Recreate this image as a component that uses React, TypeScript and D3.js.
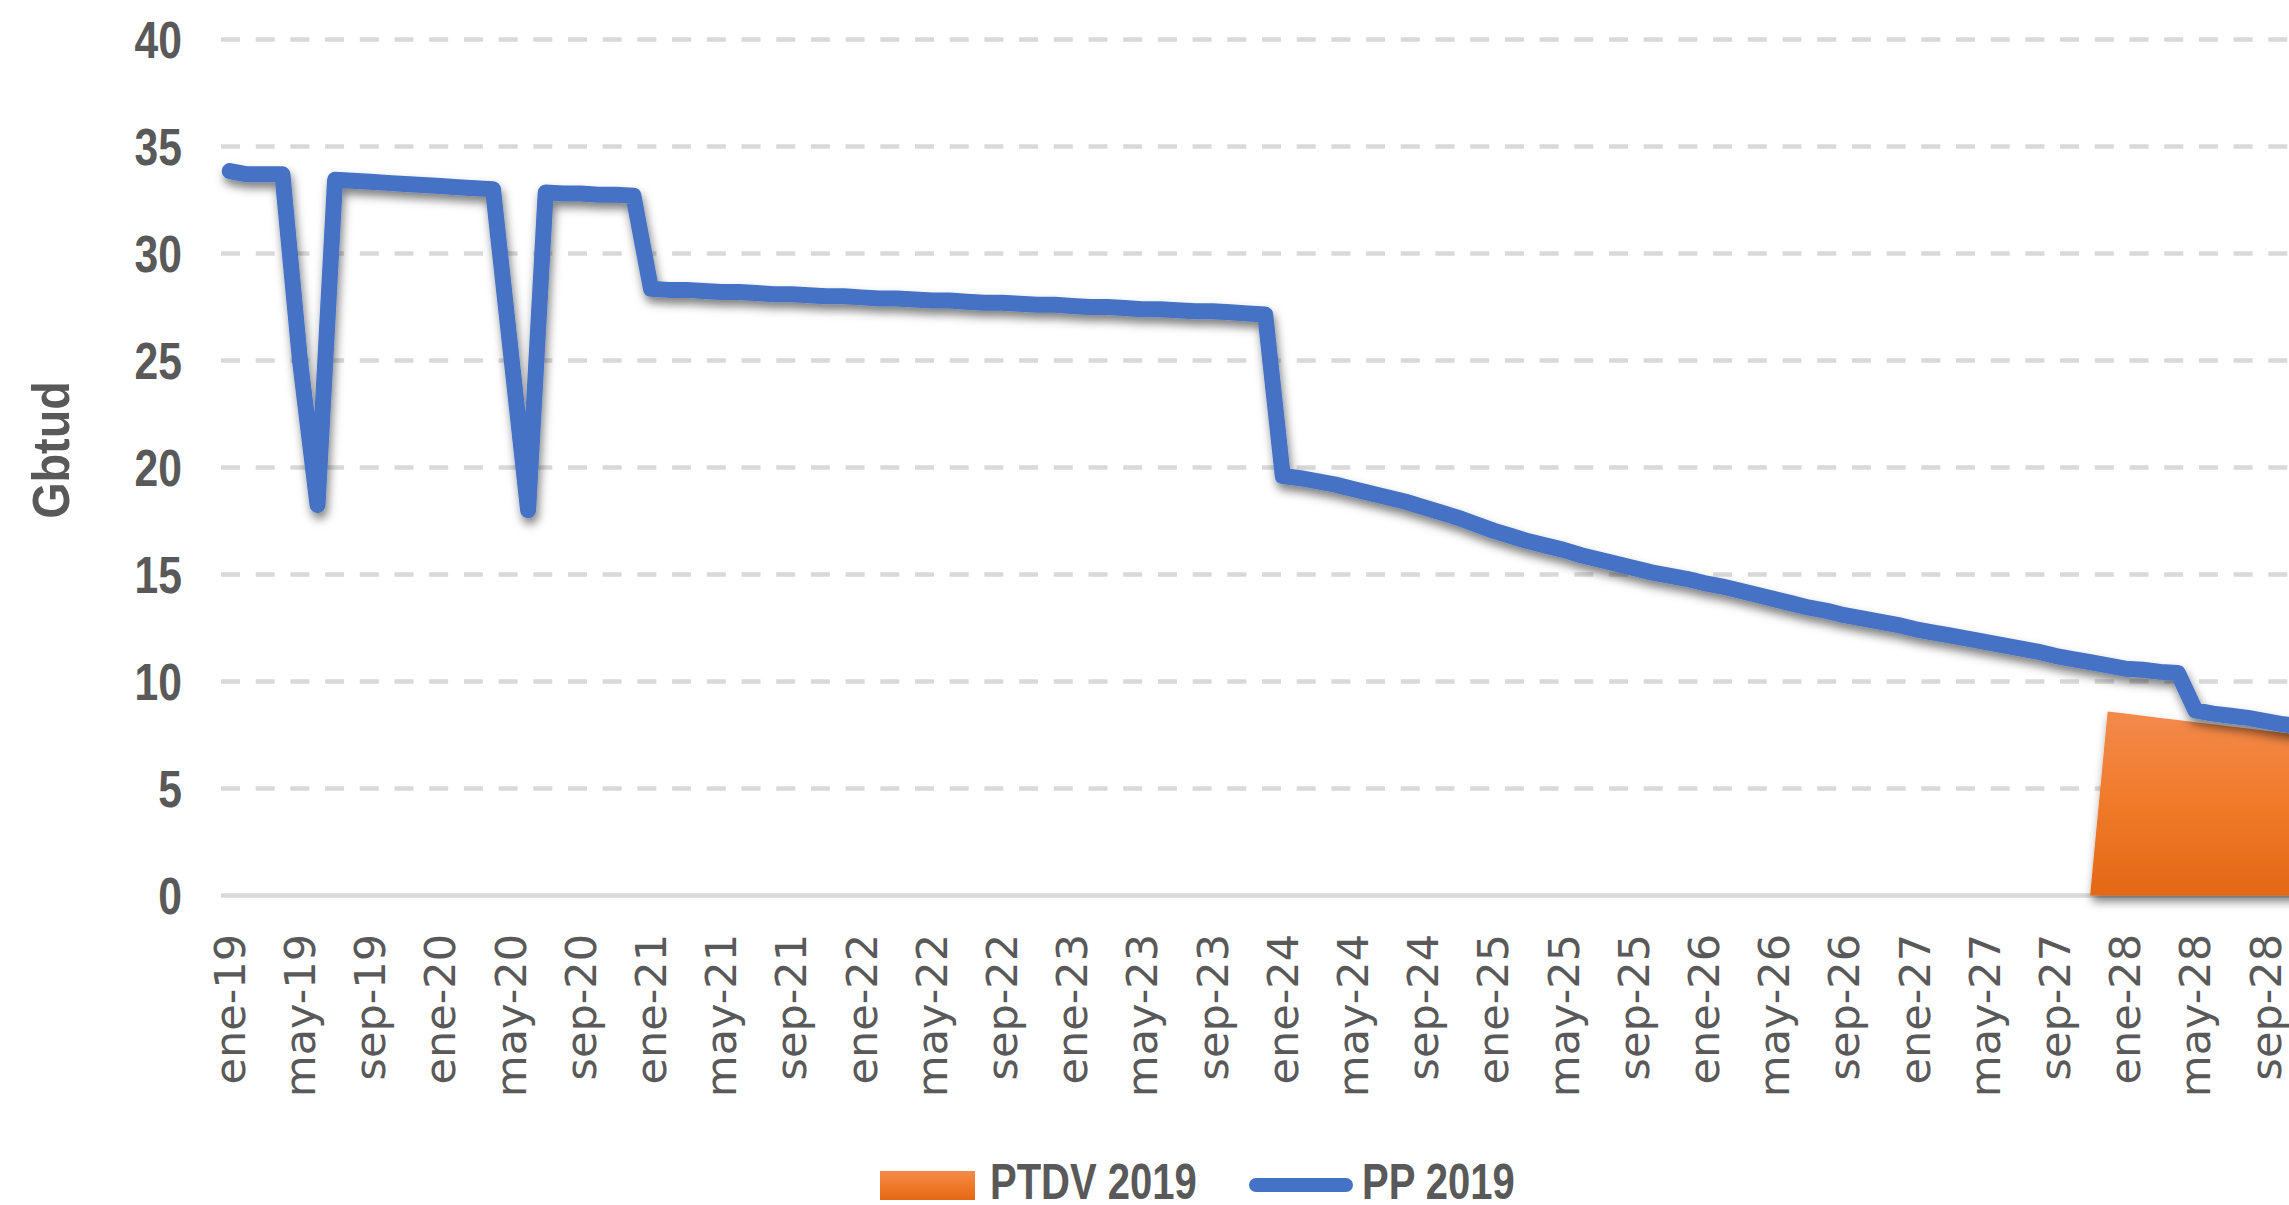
import React from 'react';
import * as d3 from 'd3';

const monthNames = ['ene', 'feb', 'mar', 'abr', 'may', 'jun', 'jul', 'ago', 'sep', 'oct', 'nov', 'dic'];
const years = ['19', '20', '21', '22', '23', '24', '25', '26', '27', '28'];
const categories = years.flatMap(y => monthNames.map(m => `${m}-${y}`));

// PP 2019, monthly (Gbtud), one row per year
const pp2019 = [
  33.85, 33.7, 33.7, 33.7, 25.0, 18.25, 33.45, 33.4, 33.35, 33.3, 33.25, 33.2,
  33.15, 33.1, 33.05, 33.0, 25.5, 18.0, 32.85, 32.8, 32.8, 32.75, 32.75, 32.7,
  28.35, 28.3, 28.3, 28.25, 28.2, 28.2, 28.15, 28.1, 28.1, 28.05, 28.0, 28.0,
  27.95, 27.9, 27.9, 27.85, 27.8, 27.8, 27.75, 27.7, 27.7, 27.65, 27.6, 27.6,
  27.55, 27.5, 27.5, 27.45, 27.4, 27.4, 27.35, 27.3, 27.3, 27.25, 27.2, 27.15,
  19.6, 19.5, 19.35, 19.2, 19.0, 18.8, 18.6, 18.4, 18.15, 17.9, 17.65, 17.35,
  17.05, 16.8, 16.55, 16.35, 16.15, 15.9, 15.7, 15.5, 15.3, 15.1, 14.95, 14.8,
  14.6, 14.45, 14.25, 14.05, 13.85, 13.65, 13.45, 13.3, 13.1, 12.95, 12.8, 12.65,
  12.45, 12.3, 12.15, 12.0, 11.85, 11.7, 11.55, 11.4, 11.2, 11.05, 10.9, 10.75,
  10.6, 10.55, 10.45, 10.4, 8.65, 8.5, 8.4, 8.3, 8.15, 8.0, 7.9, 7.8,
];

// PTDV 2019 starts at nov-27 (zero before)
const ptdvStart = 'nov-27';
const ptdv2019 = [0, 8.6, 8.5, 8.4, 8.3, 8.2, 8.1, 8.0, 7.9, 7.8, 7.7, 7.6, 7.5, 7.4];

const yTicks = [0, 5, 10, 15, 20, 25, 30, 35, 40];

const W = 2289;
const H = 1205;
const labelColor = '#595959';
const boldFont = '"Liberation Sans", Arial, sans-serif';

// narrow bold label (no condensed face installed, so squeeze horizontally)
const Narrow = ({ x, y, rotate = 0, sx = 0.8, anchor = 'start', size = 52, children }: any) => (
  <g transform={`translate(${x},${y}) rotate(${rotate}) scale(${sx},1)`}>
    <text textAnchor={anchor} dominantBaseline="central" fontFamily={boldFont}
      fontWeight="bold" fontSize={size} fill={labelColor}>{children}</text>
  </g>
);

export default function App() {
  const step = 17.55;
  const left = 221;
  const x = d3.scaleBand<string>()
    .domain(categories)
    .range([left, left + step * categories.length])
    .paddingInner(0)
    .paddingOuter(0);
  const cx = (c: string) => (x(c) as number) + x.bandwidth() / 2;

  const y = d3.scaleLinear().domain([0, 40]).range([895.5, 39.5]);

  const ppData = categories.map((c, i) => ({ c, v: pp2019[i] }));
  const startIdx = categories.indexOf(ptdvStart);
  const ptdvData = ptdv2019.map((v, i) => ({ c: categories[startIdx + i], v }));

  const line = d3.line<{ c: string; v: number }>()
    .x(d => cx(d.c))
    .y(d => y(d.v));

  const area = d3.area<{ c: string; v: number }>()
    .x(d => cx(d.c))
    .y0(y(0))
    .y1(d => y(d.v));

  const plotRight = W + 40;

  return (
    <svg width={W} height={H} style={{ position: 'absolute', left: 0, top: 0, background: '#fff' }}>
      <defs>
        <linearGradient id="ptdv-grad" x1="0" y1="0" x2="0" y2="1">
          <stop offset="0%" stopColor="#F28A4C" />
          <stop offset="50%" stopColor="#F07A2A" />
          <stop offset="100%" stopColor="#E36816" />
        </linearGradient>
        <filter id="shadow" x="-5%" y="-10%" width="110%" height="130%">
          <feDropShadow dx="2" dy="6" stdDeviation="5" floodColor="#000" floodOpacity="0.5" />
        </filter>
      </defs>

      {/* gridlines */}
      {yTicks.filter(t => t > 0).map(t => (
        <line key={t} x1={left} x2={plotRight} y1={y(t)} y2={y(t)}
          stroke="#D9D9D9" strokeWidth={4.5} strokeDasharray="19 15.7" />
      ))}
      <line x1={left} x2={plotRight} y1={y(0)} y2={y(0)} stroke="#D9D9D9" strokeWidth={4.5} />

      {/* y tick labels */}
      {yTicks.map(t => (
        <Narrow key={t} x={182} y={y(t)} anchor="end" sx={0.82}>{t}</Narrow>
      ))}

      <Narrow x={51} y={450} rotate={-90} anchor="middle" sx={0.9}>Gbtud</Narrow>

      {/* PTDV 2019 area */}
      <path d={area(ptdvData) || ''} fill="url(#ptdv-grad)" filter="url(#shadow)" />

      {/* PP 2019 line */}
      <path d={line(ppData) || ''} fill="none" stroke="#4472C4" strokeWidth={16}
        strokeLinejoin="round" strokeLinecap="round" filter="url(#shadow)" />

      {/* x labels */}
      {categories.filter((_, i) => i % 4 === 0).map(c => (
        <text key={c} transform={`translate(${cx(c)},934) rotate(-90)`} textAnchor="end"
          dominantBaseline="central" fontFamily='"DejaVu Sans", Verdana, sans-serif'
          fontSize={43} fill={labelColor}>{c}</text>
      ))}

      {/* legend */}
      <rect x={880} y={1171} width={95} height={29} fill="url(#ptdv-grad)" />
      <Narrow x={990} y={1182} sx={0.8} size={50}>PTDV 2019</Narrow>
      <line x1={1256} x2={1346} y1={1185} y2={1185} stroke="#4472C4" strokeWidth={14} strokeLinecap="round" />
      <Narrow x={1362} y={1182} sx={0.8} size={50}>PP 2019</Narrow>
    </svg>
  );
}
